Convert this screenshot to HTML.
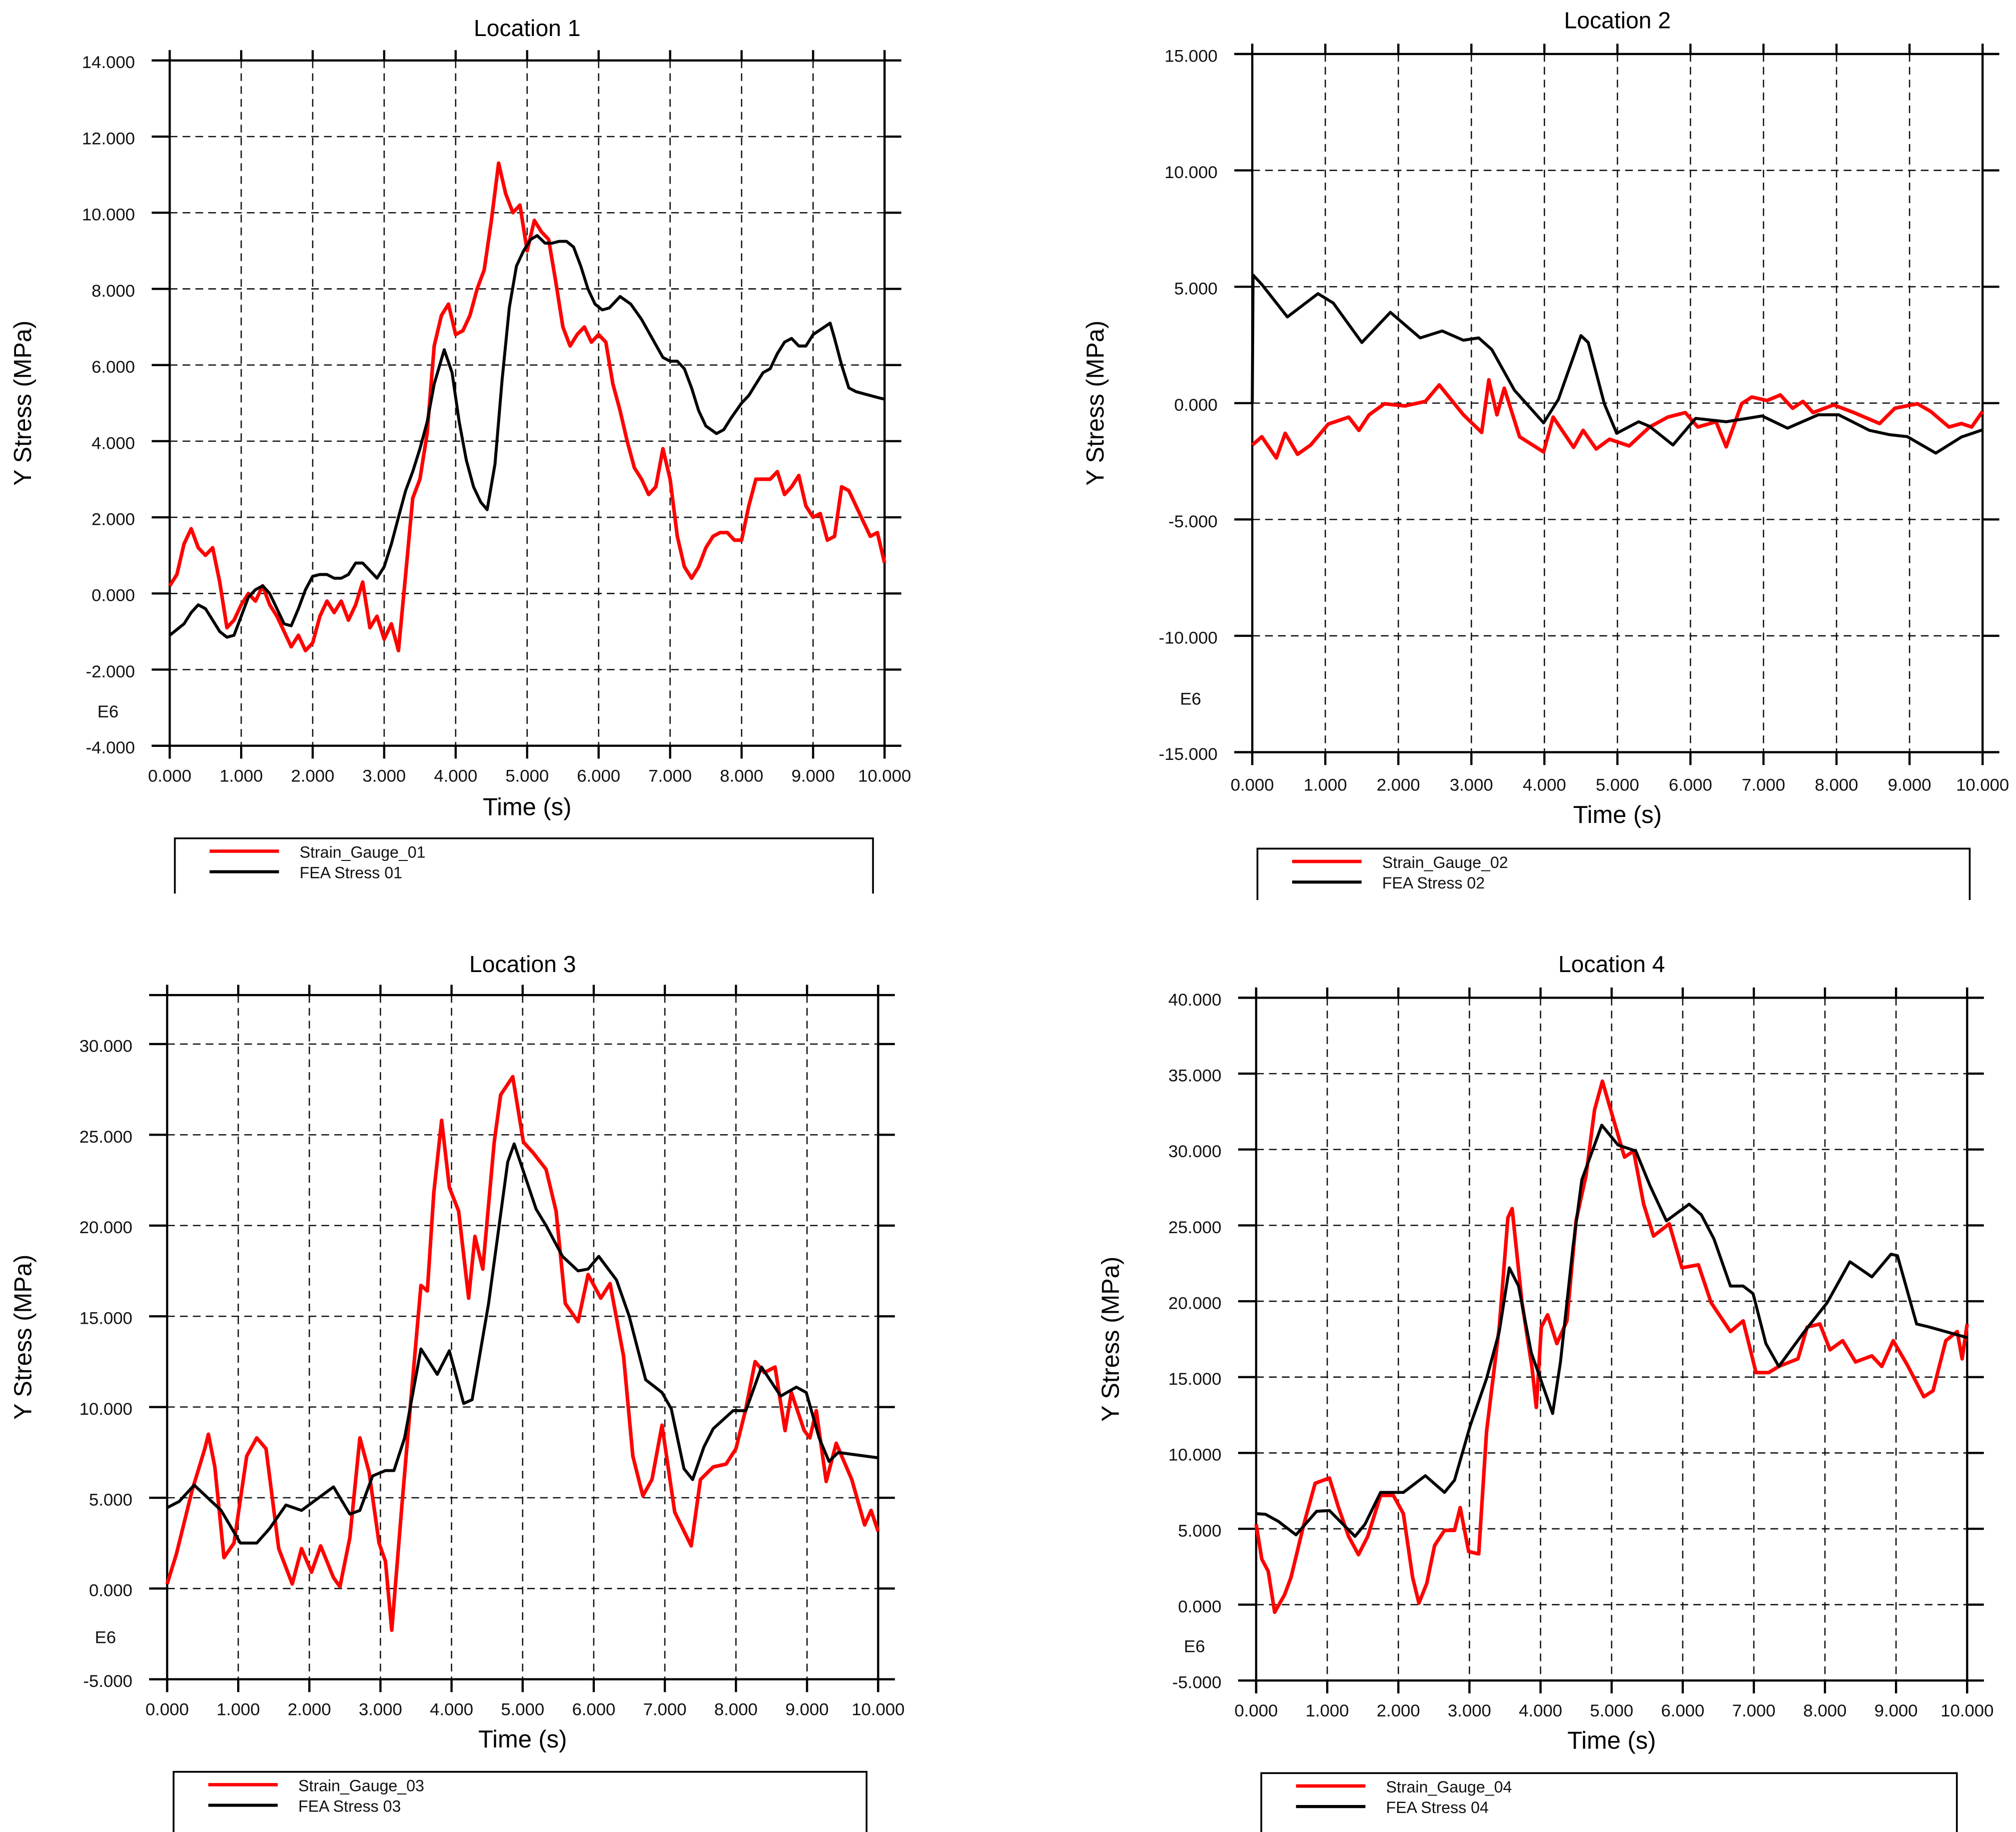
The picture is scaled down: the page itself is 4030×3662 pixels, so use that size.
<!DOCTYPE html>
<html><head><meta charset="utf-8"><style>
html,body{margin:0;padding:0;background:#fff;}
svg{display:block;font-family:"Liberation Sans",Arial,sans-serif;}
</style></head><body>
<svg id="fig" width="4030" height="3662" viewBox="0 0 1568 1424.8" preserveAspectRatio="none" xmlns="http://www.w3.org/2000/svg"></svg>
<script>
// ---------- Data ----------
const xTicks = [0,1,2,3,4,5,6,7,8,9,10];
const xTickLabels = ["0.000","1.000","2.000","3.000","4.000","5.000","6.000","7.000","8.000","9.000","10.000"];

const p1YTicks = [-4,-2,0,2,4,6,8,10,12,14];
const p1YTickLabels = ["-4.000","-2.000","0.000","2.000","4.000","6.000","8.000","10.000","12.000","14.000"];
const p1RedT = [0,0.1,0.2,0.3,0.4,0.5,0.6,0.7,0.8,0.9,1.0,1.1,1.2,1.3,1.4,1.5,1.6,1.7,1.8,1.9,2.0,2.1,2.2,2.3,2.4,2.5,2.6,2.7,2.8,2.9,3.0,3.1,3.2,3.3,3.4,3.5,3.6,3.7,3.8,3.9,4.0,4.1,4.2,4.3,4.4,4.5,4.6,4.7,4.8,4.9,5.0,5.1,5.2,5.3,5.4,5.5,5.6,5.7,5.8,5.9,6.0,6.1,6.2,6.3,6.4,6.5,6.6,6.7,6.8,6.9,7.0,7.1,7.2,7.3,7.4,7.5,7.6,7.7,7.8,7.9,8.0,8.1,8.2,8.3,8.4,8.5,8.6,8.7,8.8,8.9,9.0,9.1,9.2,9.3,9.4,9.5,9.6,9.7,9.8,9.9,10];
const p1RedV = [0.2,0.5,1.3,1.7,1.2,1.0,1.2,0.3,-0.9,-0.7,-0.3,0.0,-0.2,0.2,-0.3,-0.6,-1.0,-1.4,-1.1,-1.5,-1.3,-0.6,-0.2,-0.5,-0.2,-0.7,-0.3,0.3,-0.9,-0.6,-1.2,-0.8,-1.5,0.5,2.5,3.0,4.2,6.5,7.3,7.6,6.8,6.9,7.3,8.0,8.5,9.8,11.3,10.5,10.0,10.2,9.0,9.8,9.5,9.3,8.2,7.0,6.5,6.8,7.0,6.6,6.8,6.6,5.5,4.8,4.0,3.3,3.0,2.6,2.8,3.8,3.0,1.5,0.7,0.4,0.7,1.2,1.5,1.6,1.6,1.4,1.4,2.3,3.0,3.0,3.0,3.2,2.6,2.8,3.1,2.3,2.0,2.1,1.4,1.5,2.8,2.7,2.3,1.9,1.5,1.6,0.8];
const p1BlackT = [0,0.2,0.3,0.4,0.5,0.6,0.7,0.8,0.9,1.0,1.1,1.2,1.3,1.4,1.5,1.6,1.7,1.8,1.9,2.0,2.1,2.2,2.3,2.4,2.5,2.6,2.7,2.8,2.9,3.0,3.1,3.2,3.3,3.4,3.5,3.6,3.7,3.84,3.95,4.05,4.15,4.25,4.35,4.44,4.55,4.65,4.75,4.85,4.95,5.05,5.14,5.25,5.35,5.45,5.55,5.65,5.75,5.85,5.95,6.05,6.15,6.3,6.45,6.6,6.75,6.9,7.0,7.1,7.2,7.3,7.4,7.5,7.65,7.75,7.85,8.0,8.1,8.2,8.3,8.4,8.5,8.6,8.7,8.8,8.9,9.0,9.24,9.3,9.4,9.5,9.6,9.7,9.8,9.9,10];
const p1BlackV = [-1.1,-0.8,-0.5,-0.3,-0.4,-0.7,-1.0,-1.15,-1.1,-0.6,-0.1,0.1,0.2,0.0,-0.4,-0.8,-0.85,-0.4,0.1,0.45,0.5,0.5,0.4,0.4,0.5,0.8,0.8,0.6,0.4,0.7,1.3,2.0,2.7,3.2,3.8,4.5,5.5,6.4,5.8,4.5,3.5,2.8,2.4,2.2,3.4,5.6,7.5,8.6,9.0,9.3,9.4,9.2,9.2,9.25,9.25,9.1,8.6,8.0,7.6,7.45,7.5,7.8,7.6,7.2,6.7,6.2,6.1,6.1,5.9,5.4,4.8,4.4,4.2,4.3,4.6,5.0,5.2,5.5,5.8,5.9,6.3,6.6,6.7,6.5,6.5,6.8,7.1,6.7,6.0,5.4,5.3,5.25,5.2,5.15,5.1];

const p2YTicks = [-15,-10,-5,0,5,10,15];
const p2YTickLabels = ["-15.000","-10.000","-5.000","0.000","5.000","10.000","15.000"];
const p2RedT = [0,0.13,0.33,0.45,0.62,0.8,1.04,1.32,1.46,1.6,1.81,2.09,2.37,2.56,2.72,2.89,3.14,3.24,3.35,3.45,3.66,3.99,4.12,4.4,4.53,4.71,4.89,5.16,5.44,5.69,5.93,6.1,6.35,6.49,6.7,6.84,7.05,7.23,7.4,7.54,7.68,7.96,8.24,8.59,8.8,9.11,9.29,9.54,9.71,9.85,10];
const p2RedV = [-1.8,-1.45,-2.36,-1.3,-2.2,-1.8,-0.9,-0.6,-1.17,-0.5,-0.03,-0.12,0.07,0.78,0.16,-0.5,-1.26,1.0,-0.5,0.64,-1.45,-2.1,-0.6,-1.9,-1.17,-1.97,-1.55,-1.84,-1.03,-0.6,-0.41,-1.03,-0.8,-1.88,-0.03,0.26,0.11,0.35,-0.22,0.07,-0.41,-0.08,-0.41,-0.88,-0.22,-0.03,-0.36,-1.03,-0.88,-1.03,-0.36];
const p2BlackT = [0,0.01,0.13,0.48,0.9,1.11,1.5,1.89,2.3,2.6,2.89,3.1,3.28,3.59,3.99,4.19,4.5,4.6,4.82,4.99,5.29,5.44,5.76,6.07,6.49,6.98,7.33,7.75,8.03,8.45,8.73,8.97,9.36,9.71,10];
const p2BlackV = [0,5.5,5.1,3.7,4.7,4.3,2.6,3.9,2.8,3.1,2.7,2.8,2.3,0.55,-0.85,0.15,2.9,2.6,-0.03,-1.3,-0.8,-1.0,-1.8,-0.66,-0.8,-0.55,-1.08,-0.5,-0.5,-1.17,-1.36,-1.44,-2.15,-1.46,-1.15];

const p3YTicks = [-5,0,5,10,15,20,25,30];
const p3YTickLabels = ["-5.000","0.000","5.000","10.000","15.000","20.000","25.000","30.000"];
const p3RedT = [0,0.13,0.35,0.53,0.58,0.67,0.8,0.94,1.12,1.26,1.39,1.57,1.76,1.89,2.03,2.16,2.34,2.43,2.57,2.71,2.84,2.98,3.07,3.16,3.3,3.43,3.57,3.66,3.75,3.86,3.97,4.1,4.24,4.33,4.44,4.6,4.69,4.86,5.01,5.15,5.33,5.47,5.6,5.78,5.92,6.1,6.23,6.42,6.55,6.69,6.82,6.96,7.14,7.37,7.5,7.68,7.86,8.0,8.14,8.27,8.4,8.55,8.69,8.78,8.96,9.04,9.13,9.27,9.41,9.63,9.81,9.9,10];
const p3RedV = [0.25,1.9,5.4,7.7,8.5,6.7,1.7,2.5,7.3,8.3,7.7,2.2,0.25,2.2,0.9,2.35,0.6,0.1,2.8,8.3,6.4,2.5,1.5,-2.3,4.5,10.5,16.7,16.4,21.8,25.8,22.1,20.8,16,19.4,17.6,24.6,27.2,28.2,24.6,24,23.1,20.8,15.7,14.7,17.3,16,16.8,12.8,7.3,5.1,6,9,4.2,2.35,6,6.7,6.85,7.7,9.9,12.5,11.9,12.2,8.7,10.8,8.7,8.3,9.8,5.9,8,6,3.5,4.3,3.15];
const p3BlackT = [0,0.17,0.38,0.76,1.03,1.26,1.44,1.67,1.89,2.34,2.57,2.71,2.89,3.07,3.19,3.34,3.57,3.8,3.97,4.17,4.29,4.52,4.79,4.88,5.19,5.33,5.56,5.78,5.92,6.07,6.32,6.5,6.73,6.96,7.09,7.27,7.39,7.55,7.68,7.96,8.14,8.36,8.63,8.85,8.99,9.17,9.31,9.44,10];
const p3BlackV = [4.45,4.8,5.7,4.3,2.5,2.5,3.3,4.6,4.3,5.6,4.1,4.3,6.2,6.5,6.5,8.3,13.2,11.8,13.1,10.2,10.4,15.7,23.5,24.5,20.9,20,18.3,17.5,17.6,18.3,17,15,11.5,10.8,9.9,6.6,6.0,7.8,8.8,9.8,9.8,12.2,10.6,11.1,10.8,8.3,7.0,7.5,7.2];

const p4YTicks = [-5,0,5,10,15,20,25,30,35,40];
const p4YTickLabels = ["-5.000","0.000","5.000","10.000","15.000","20.000","25.000","30.000","35.000","40.000"];
const p4RedT = [0,0.08,0.17,0.26,0.4,0.49,0.67,0.83,1.03,1.16,1.3,1.44,1.57,1.75,1.93,2.07,2.2,2.29,2.4,2.51,2.65,2.79,2.87,2.99,3.13,3.24,3.42,3.54,3.6,3.74,3.88,3.94,4.01,4.1,4.23,4.37,4.5,4.64,4.76,4.87,5.0,5.18,5.31,5.45,5.59,5.81,5.99,6.22,6.4,6.67,6.85,7.03,7.21,7.35,7.62,7.75,7.93,8.07,8.25,8.43,8.66,8.8,8.96,9.16,9.39,9.52,9.7,9.86,9.93,10];
const p4RedV = [5.3,3,2.2,-0.5,0.65,1.8,5.3,8.0,8.35,6.4,4.5,3.3,4.5,7.2,7.2,6,1.8,0.1,1.4,3.9,4.9,4.9,6.4,3.5,3.35,11.4,18.3,25.5,26.1,19.9,15.6,13,18.3,19.1,17.2,18.7,25.3,28.3,32.6,34.5,32.4,29.5,29.9,26.4,24.3,25.1,22.2,22.4,19.9,18,18.7,15.3,15.3,15.7,16.2,18.3,18.5,16.8,17.4,16,16.4,15.7,17.4,15.8,13.7,14.1,17.4,18,16.2,18.5];
const p4BlackT = [0,0.13,0.31,0.56,0.85,1.03,1.39,1.53,1.75,2.07,2.38,2.65,2.79,3.01,3.24,3.42,3.56,3.69,3.87,4.17,4.28,4.46,4.58,4.86,5.09,5.34,5.54,5.77,6.09,6.26,6.44,6.67,6.85,6.99,7.17,7.35,7.71,8.03,8.35,8.57,8.66,8.93,9.02,9.29,9.47,10];
const p4BlackV = [6,5.96,5.5,4.6,6.15,6.2,4.5,5.3,7.4,7.4,8.5,7.4,8.2,11.8,14.9,18,22.2,21,16.6,12.6,16,23.7,28,31.6,30.3,29.9,27.6,25.3,26.4,25.7,24.1,21,21,20.5,17.2,15.7,18,19.9,22.6,21.9,21.6,23.1,23.0,18.5,18.3,17.6];

// ---------- Layout (thumbnail coordinate space) ----------
const panels = [
 {id:1,title:"Location 1",xl:132,xr:688,ymin:-4,ymax:14,yminPx:580,ymaxPx:47,frameTopVal:14,yT:p1YTicks,yL:p1YTickLabels,rT:p1RedT,rV:p1RedV,bT:p1BlackT,bV:p1BlackV,titleY:22,e6Y:553,xlabY:603,timeY:627,ytX:18,leg:{x1:136,x2:679,y:652,b:695},red:"Strain_Gauge_01",black:"FEA Stress 01"},
 {id:2,title:"Location 2",xl:974,xr:1542,ymin:-15,ymax:15,yminPx:585,ymaxPx:42,frameTopVal:15,yT:p2YTicks,yL:p2YTickLabels,rT:p2RedT,rV:p2RedV,bT:p2BlackT,bV:p2BlackV,titleY:16,e6Y:543,xlabY:610,timeY:633,ytX:852,leg:{x1:978,x2:1532,y:660,b:700},red:"Strain_Gauge_02",black:"FEA Stress 02"},
 {id:3,title:"Location 3",xl:130,xr:683,ymin:-5,ymax:30,yminPx:1306,ymaxPx:812,frameTopVal:32.7,yT:p3YTicks,yL:p3YTickLabels,rT:p3RedT,rV:p3RedV,bT:p3BlackT,bV:p3BlackV,titleY:750,e6Y:1273,xlabY:1329,timeY:1352,ytX:18,leg:{x1:135,x2:674,y:1378,b:1425},red:"Strain_Gauge_03",black:"FEA Stress 03"},
 {id:4,title:"Location 4",xl:977,xr:1530,ymin:-5,ymax:40,yminPx:1307,ymaxPx:776,frameTopVal:40,yT:p4YTicks,yL:p4YTickLabels,rT:p4RedT,rV:p4RedV,bT:p4BlackT,bV:p4BlackV,titleY:750,e6Y:1280,xlabY:1330,timeY:1353,ytX:864,leg:{x1:981,x2:1522,y:1379,b:1425},red:"Strain_Gauge_04",black:"FEA Stress 04"}
];

const NS="http://www.w3.org/2000/svg";
const svg=document.getElementById('fig');
function mk(tag,attrs,parent,text){
  const e=document.createElementNS(NS,tag);
  for(const k in attrs) e.setAttribute(k,attrs[k]);
  if(text!==undefined) e.textContent=text;
  parent.appendChild(e); return e;
}

panels.forEach(p=>{
  const g=mk('g',{},svg);
  
  
  const xs=t=>p.xl+(t-0)/(10-0)*(p.xr-p.xl);
  const ys=v=>p.yminPx+(v-p.ymin)/(p.ymax-p.ymin)*(p.ymaxPx-p.yminPx);
  const top=ys(p.frameTopVal), bot=p.yminPx;

  const grid=mk('g',{stroke:'#111','stroke-width':1.0,'stroke-dasharray':'6,4'},g);
  
  
  xTicks.forEach(t=>{ if(t>0&&t<10) mk('line',{x1:xs(t),x2:xs(t),y1:top,y2:bot},grid); });
  p.yT.forEach(v=>{ const y=ys(v); if(Math.abs(y-top)>2&&Math.abs(y-bot)>2) mk('line',{x1:p.xl,x2:p.xr,y1:y,y2:y},grid); });

  const fr=mk('g',{stroke:'#000','stroke-width':1.7},g);
  
  
  mk('line',{x1:p.xl-14,x2:p.xr+13,y1:top,y2:top},fr);
  mk('line',{x1:p.xl-14,x2:p.xr+13,y1:bot,y2:bot},fr);
  mk('line',{x1:p.xl,x2:p.xl,y1:top-8,y2:bot+10},fr);
  mk('line',{x1:p.xr,x2:p.xr,y1:top-8,y2:bot+10},fr);
  xTicks.forEach(t=>{ const x=xs(t);
    mk('line',{x1:x,x2:x,y1:top-8,y2:top},fr);
    mk('line',{x1:x,x2:x,y1:bot,y2:bot+10},fr); });
  p.yT.forEach(v=>{ const y=ys(v);
    mk('line',{x1:p.xl-14,x2:p.xl,y1:y,y2:y},fr);
    mk('line',{x1:p.xr,x2:p.xr+13,y1:y,y2:y},fr); });

  p.yT.forEach((v,i)=>{
    const tx=mk('text',{x:p.xl-27,y:ys(v)+6,'text-anchor':'end','font-size':13.5,fill:'#111'},g,p.yL[i]);
    
    
  });
  xTicks.forEach((t,i)=>{
    const tx=mk('text',{x:xs(t),y:p.xlabY+5,'text-anchor':'middle','font-size':13.5,fill:'#111'},g,xTickLabels[i]);
    
    
  });
  const e6=mk('text',{x:p.xl-48,y:p.e6Y+5,'text-anchor':'middle','font-size':13.5,fill:'#111'},g,'E6');
  
  
  const ti=mk('text',{x:(p.xl+p.xr)/2,y:p.titleY+6,'text-anchor':'middle','font-size':18,fill:'#000'},g,p.title);
  
  
  const xt=mk('text',{x:(p.xl+p.xr)/2,y:p.timeY+7,'text-anchor':'middle','font-size':19,fill:'#000'},g,'Time (s)');
  
  
  const cy=(top+bot)/2;
  const yt=mk('text',{x:p.ytX,y:cy,'text-anchor':'middle','font-size':19,fill:'#000','dominant-baseline':'central',transform:'rotate(-90 '+p.ytX+' '+cy+')'},g,'Y Stress (MPa)');
  
  

  const ptsR=p.rT.map((t,i)=>xs(t).toFixed(1)+','+ys(p.rV[i]).toFixed(1)).join(' ');
  const ptsB=p.bT.map((t,i)=>xs(t).toFixed(1)+','+ys(p.bV[i]).toFixed(1)).join(' ');
  const lr=mk('polyline',{points:ptsR,fill:'none',stroke:'#ff0000','stroke-width':2.8,'stroke-linejoin':'round'},g);
  
  
  const lb=mk('polyline',{points:ptsB,fill:'none',stroke:'#000','stroke-width':2.3,'stroke-linejoin':'round'},g);
  
  

  const L=p.leg;
  const lg=mk('g',{},g);
  
  
  mk('polyline',{points:`${L.x1},${L.b} ${L.x1},${L.y} ${L.x2},${L.y} ${L.x2},${L.b}`,fill:'none',stroke:'#000','stroke-width':1.4},lg);
  mk('line',{x1:L.x1+27,x2:L.x1+81,y1:L.y+10,y2:L.y+10,stroke:'#ff0000','stroke-width':2.6},lg);
  mk('line',{x1:L.x1+27,x2:L.x1+81,y1:L.y+26,y2:L.y+26,stroke:'#000','stroke-width':2.4},lg);
  const t1=mk('text',{x:L.x1+97,y:L.y+15,'font-size':12.5,fill:'#111'},lg,p.red);
  
  
  const t2=mk('text',{x:L.x1+97,y:L.y+31,'font-size':12.5,fill:'#111'},lg,p.black);
  
  
});
</script>
</body></html>
